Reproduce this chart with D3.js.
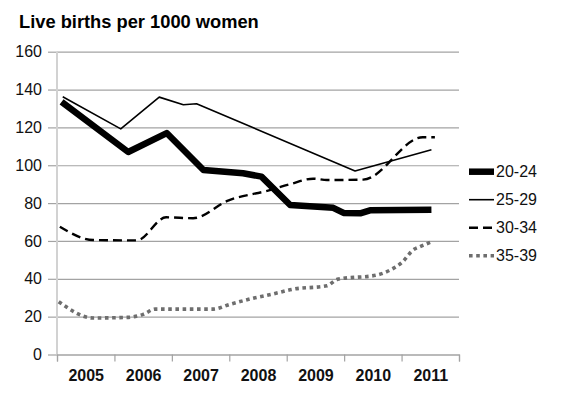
<!DOCTYPE html>
<html>
<head>
<meta charset="utf-8">
<script src="https://cdn.jsdelivr.net/npm/d3@7"></script>
<style>
  body { margin: 0; background: #fff; }
  text { font-family: "Liberation Sans", Arial, sans-serif; }
</style>
</head>
<body>
<svg id="chart" width="584" height="395"></svg>
<script>
// data (x = position in years along the category axis)
var years = [2005, 2006, 2007, 2008, 2009, 2010, 2011];
var yTicks = [0, 20, 40, 60, 80, 100, 120, 140, 160];
var groups = ["20-24", "25-29", "30-34", "35-39"];

var x2024 = [2004.58, 2005.74, 2006.41, 2007.05, 2007.74, 2008.06, 2008.56, 2009.31, 2009.49, 2009.78, 2009.95, 2011.02];
var v2024 = [133.5, 107, 117, 97.5, 95.8, 94, 79, 77.5, 74.8, 74.6, 76.2, 76.5];

var x2529 = [2004.60, 2005.61, 2006.28, 2006.70, 2006.93, 2009.69, 2011.02];
var v2529 = [136.2, 119.2, 136, 132, 132.5, 97, 108.2];

var x3034 = [2004.55, 2005.13, 2005.89, 2006.40, 2006.87, 2007.49, 2008.16, 2008.56, 2008.96, 2009.20, 2009.83, 2010.87, 2011.08];
var v3034 = [67.5, 60.5, 60.3, 72.5, 72, 81.5, 86.5, 90, 92.9, 92.2, 92.4, 114.8, 114.8];

var x3539 = [2004.53, 2005.13, 2005.72, 2006.00, 2006.21, 2007.22, 2007.51, 2007.91, 2008.26, 2008.61, 2009.20, 2009.38, 2010.07, 2010.30, 2010.52, 2010.70, 2010.82, 2011.03];
var v3539 = [27.9, 19.3, 19.6, 21.2, 24, 24, 26.5, 29.7, 32, 34.5, 36.3, 39.7, 42, 44.6, 49, 55.2, 57, 59.6];

var svg = d3.select("#chart");

var plotLeft = 57, plotRight = 459, plotTop = 51.7, plotBottom = 354.5;

var x = d3.scaleLinear().domain([2004.5, 2011.5]).range([plotLeft, plotRight]);
var y = d3.scaleLinear().domain([0, 160]).range([plotBottom, plotTop]);

// title
svg.append("text")
  .attr("x", 19)
  .attr("y", 28)
  .style("font-size", "18.3px")
  .style("font-weight", "bold")
  .text("Live births per 1000 women");

// gridlines
var grid = svg.append("g")
  .attr("transform", "translate(" + plotLeft + ",0)")
  .call(d3.axisLeft(y).tickValues(yTicks).tickSize(-(plotRight - plotLeft)).tickFormat(""));
grid.select(".domain").remove();
grid.selectAll("line").attr("stroke", "#a3a3a3").attr("stroke-width", 1.2);

// y axis (labels and small ticks)
var yAxis = svg.append("g")
  .attr("transform", "translate(" + plotLeft + ",0)")
  .call(d3.axisLeft(y).tickValues(yTicks).tickSize(9).tickPadding(6));
yAxis.select(".domain").remove();
yAxis.selectAll("line").attr("stroke", "#a3a3a3").attr("stroke-width", 1.2);
yAxis.selectAll("text")
  .style("font-size", "16px")
  .attr("fill", "#111");

// left axis line
svg.append("line")
  .attr("x1", plotLeft).attr("x2", plotLeft)
  .attr("y1", plotTop).attr("y2", plotBottom)
  .attr("stroke", "#d2d2d2")
  .attr("stroke-width", 2);

// x axis tick marks at the category boundaries
var xTickAxis = svg.append("g")
  .attr("transform", "translate(0," + plotBottom + ")")
  .call(d3.axisBottom(x).tickValues(d3.range(2004.5, 2012, 1)).tickSize(7).tickFormat(""));
xTickAxis.select(".domain").attr("stroke", "#a3a3a3").attr("stroke-width", 1.2);
xTickAxis.selectAll("line").attr("stroke", "#a3a3a3").attr("stroke-width", 1.2);

// x labels in the middle of each year
var xAxis = svg.append("g")
  .attr("transform", "translate(0," + plotBottom + ")")
  .call(d3.axisBottom(x).tickValues(years).tickSize(0).tickPadding(15).tickFormat(d3.format("d")));
xAxis.select(".domain").remove();
xAxis.selectAll("text")
  .style("font-size", "16px")
  .style("font-weight", "bold")
  .attr("fill", "#111");

// series
var series = [
  { name: groups[0], xs: x2024, vs: v2024, color: "#000", width: 6.5, dash: null, curve: d3.curveLinear },
  { name: groups[1], xs: x2529, vs: v2529, color: "#000", width: 1.6, dash: null, curve: d3.curveLinear },
  { name: groups[2], xs: x3034, vs: v3034, color: "#000", width: 2.4, dash: "9,5", curve: d3.curveMonotoneX },
  { name: groups[3], xs: x3539, vs: v3539, color: "#6e6e6e", width: 3.6, dash: "3.6,3.6", curve: d3.curveMonotoneX }
];

// draw in back-to-front order like the original
[3, 2, 1, 0].forEach(function(i) {
  var s = series[i];
  var pts = s.xs.map(function(d, j) { return [d, s.vs[j]]; });
  var line = d3.line()
    .x(function(d) { return x(d[0]); })
    .y(function(d) { return y(d[1]); })
    .curve(s.curve);
  svg.append("path")
    .datum(pts)
    .attr("d", line)
    .attr("fill", "none")
    .attr("stroke", s.color)
    .attr("stroke-width", s.width)
    .attr("stroke-dasharray", s.dash)
    .attr("stroke-linejoin", "round");
});

// legend
var legend = svg.append("g")
  .selectAll("g")
  .data(series)
  .enter()
  .append("g")
  .attr("transform", function(d, i) {
    return "translate(469," + (171.7 + i * 28) + ")";
  });

legend.append("line")
  .attr("x1", 0).attr("x2", 25)
  .attr("y1", 0).attr("y2", 0)
  .attr("stroke", function(d) { return d.color; })
  .attr("stroke-width", function(d) { return d.width; })
  .attr("stroke-dasharray", function(d) { return d.dash; });

legend.append("text")
  .attr("x", 27)
  .attr("y", 0)
  .attr("dy", "0.35em")
  .style("font-size", "16px")
  .attr("fill", "#111")
  .text(function(d) { return d.name; });
</script>
</body>
</html>
